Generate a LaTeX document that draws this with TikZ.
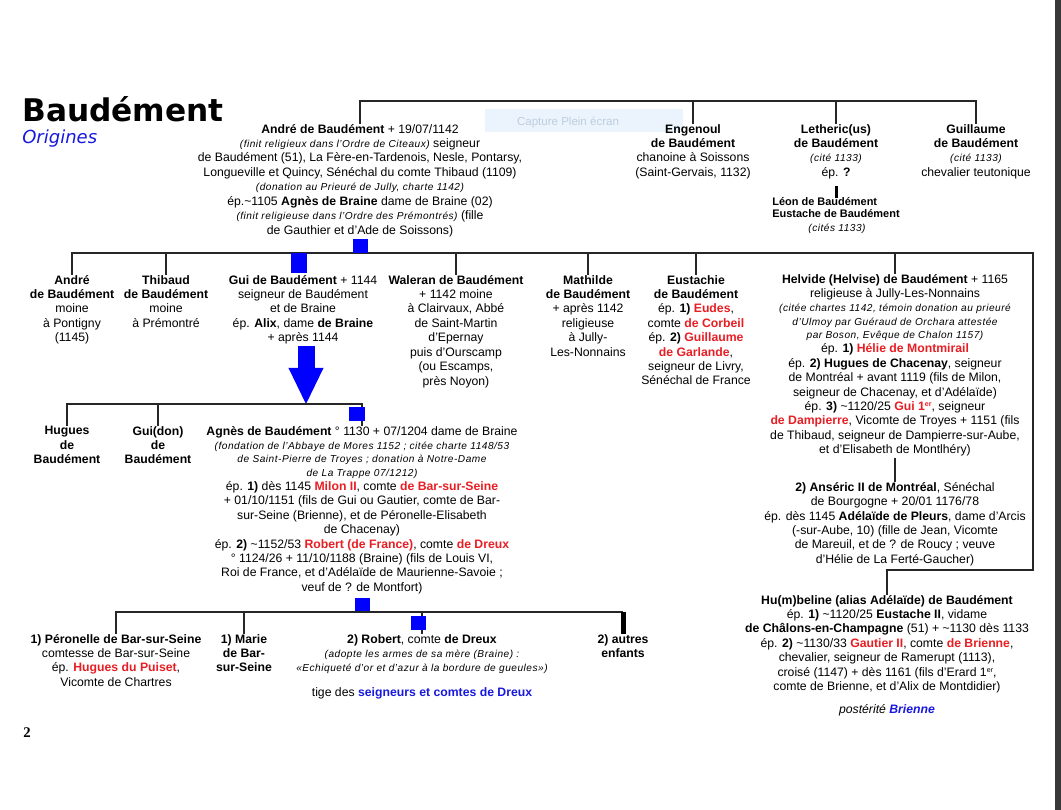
\documentclass[tikz,border=0pt]{standalone}
\usepackage{fontspec}
\setmainfont{Liberation Sans}
\newfontfamily\titrefont{DejaVu Sans}
\newfontfamily\pagefont{Liberation Serif}
\usetikzlibrary{arrows.meta}
\definecolor{rouge}{RGB}{232,30,36}
\definecolor{bleu}{RGB}{24,24,222}
\definecolor{capfond}{RGB}{235,244,253}
\definecolor{capgris}{RGB}{190,205,222}
\colorlet{trait}{black!85}
\newcommand{\vers}{\textasciitilde}
\newcommand{\rg}[1]{{\bfseries\color{rouge}#1}}
\newcommand{\bl}[1]{{\bfseries\color{bleu}#1}}
\newcommand{\rem}[1]{{\fontsize{7.2}{10.25}\selectfont\itshape\addfontfeature{LetterSpace=5}#1}}
\newcommand{\er}{\raisebox{0.32em}{\fontsize{5}{5}\selectfont er}}

\begin{document}
\begin{tikzpicture}[x=0.025cm, y=-0.025cm, font=\fontsize{8.7}{10.25}\selectfont,
    bloc/.style={align=center, inner sep=0pt, anchor=north, execute at begin node=\strut},
    lien/.style={draw=trait, line width=0.035cm},
    barre/.style={draw=black, line width=0.075cm},
    carre/.style={fill=blue, inner sep=0pt, minimum width=0.375cm, minimum height=0.35cm},
    fleche/.style={draw=blue, line width=0.425cm, -{Triangle[length=0.9cm, width=0.875cm, line width=0pt]}}]
  \useasboundingbox (0,0) rectangle (1061,810);
  \fill[white] (0,0) rectangle (1061,810);
  \fill[black!78] (1055,0) rectangle (1061,810);

  % titre
  \node[anchor=base west, inner sep=0pt, font=\titrefont\fontsize{22.2}{24}\selectfont\bfseries] (titre) at (22,121) {Baudément};
  \node[anchor=base west, inner sep=0pt, font=\titrefont\fontsize{12.8}{14}\selectfont\itshape, text=bleu] (soustitre) at (22,143) {Origines};
  \fill[capfond] (485,109) rectangle (683,132);
  \node[anchor=base, inner sep=0pt, text=capgris, font=\fontsize{8.2}{9}\selectfont] (capture) at (568,125) {Capture Plein écran};

  % premiere generation
  \node[bloc] (andre) at (360,123.9) {\textbf{André de Baudément} + 19/07/1142\\
    \rem{(finit religieux dans l'Ordre de Citeaux)} seigneur\\
    de Baudément (51), La Fère-en-Tardenois, Nesle, Pontarsy,\\
    Longueville et Quincy, Sénéchal du comte Thibaud (1109)\\
    \rem{(donation au Prieuré de Jully, charte 1142)}\\
    ép.\vers1105 \textbf{Agnès de Braine} dame de Braine (02)\\
    \rem{(finit religieuse dans l'Ordre des Prémontrés)} (fille\\
    de Gauthier et d'Ade de Soissons)};
  \node[bloc] (engenoul) at (693,123.9) {\textbf{Engenoul}\\\textbf{de Baudément}\\chanoine à Soissons\\(Saint-Gervais, 1132)};
  \node[bloc] (letheric) at (836,123.9) {\textbf{Letheric(us)}\\\textbf{de Baudément}\\\rem{(cité 1133)}\\ép. \textbf{?}};
  \node[bloc] (guillaume) at (976,123.9) {\textbf{Guillaume}\\\textbf{de Baudément}\\\rem{(cité 1133)}\\chevalier teutonique};
  \node[bloc, align=left, font=\fontsize{7.8}{8.5}\selectfont\bfseries] (leon) at (836,197.6) {Léon de Baudément\\Eustache de Baudément};
  \node[bloc] (leoncite) at (837,220.9) {\rem{(cités 1133)}};

  % enfants d'Andre
  \node[bloc] (andrefils) at (72,274.9) {\textbf{André}\\\textbf{de Baudément}\\moine\\à Pontigny\\(1145)};
  \node[bloc] (thibaud) at (166,274.9) {\textbf{Thibaud}\\\textbf{de Baudément}\\moine\\à Prémontré};
  \node[bloc] (gui) at (303,274.9) {\textbf{Gui de Baudément} + 1144\\seigneur de Baudément\\et de Braine\\
    ép. \textbf{Alix}, dame \textbf{de Braine}\\+ après 1144};
  \node[bloc] (waleran) at (456,274.9) {\textbf{Waleran de Baudément}\\+ 1142 moine\\à Clairvaux, Abbé\\de Saint-Martin\\
    d'Epernay\\puis d'Ourscamp\\(ou Escamps,\\près Noyon)};
  \node[bloc] (mathilde) at (588,274.9) {\textbf{Mathilde}\\\textbf{de Baudément}\\+ après 1142\\religieuse\\à Jully-\\Les-Nonnains};
  \node[bloc] (eustachie) at (696,274.9) {\textbf{Eustachie}\\\textbf{de Baudément}\\ép. \textbf{1)} \rg{Eudes},\\
    comte \rg{de Corbeil}\\ép. \textbf{2)} \rg{Guillaume}\\\rg{de Garlande},\\seigneur de Livry,\\Sénéchal de France};
  \node[bloc] (helvide) at (895,273.9) {\textbf{Helvide (Helvise) de Baudément} + 1165\\
    religieuse à Jully-Les-Nonnains\\
    \rem{(citée chartes 1142, témoin donation au prieuré}\\[-0.03cm]
    \rem{d'Ulmoy par Guéraud de Orchara attestée}\\[-0.03cm]
    \rem{par Boson, Evêque de Chalon 1157)}\\
    ép. \textbf{1)} \rg{Hélie de Montmirail}\\
    ép. \textbf{2) Hugues de Chacenay}, seigneur\\
    de Montréal + avant 1119 (fils de Milon,\\
    seigneur de Chacenay, et d'Adélaïde)\\
    ép. \textbf{3)} \vers1120/25 \rg{Gui 1\er}, seigneur\\
    \rg{de Dampierre}, Vicomte de Troyes + 1151 (fils\\
    de Thibaud, seigneur de Dampierre-sur-Aube,\\
    et d'Elisabeth de Montlhéry)};
  \node[bloc] (anseric) at (895,481.9) {\textbf{2) Anséric II de Montréal}, Sénéchal\\
    de Bourgogne + 20/01 1176/78\\
    ép. dès 1145 \textbf{Adélaïde de Pleurs}, dame d'Arcis\\
    (-sur-Aube, 10) (fille de Jean, Vicomte\\
    de Mareuil, et de ? de Roucy ; veuve\\
    d'Hélie de La Ferté-Gaucher)};
  \node[bloc] (humbeline) at (887,594.9) {\textbf{Hu(m)beline (alias Adélaïde) de Baudément}\\
    ép. \textbf{1)} \vers1120/25 \textbf{Eustache II}, vidame\\
    \textbf{de Châlons-en-Champagne} (51) + \vers1130 dès 1133\\
    ép. \textbf{2)} \vers1130/33 \rg{Gautier II}, comte \rg{de Brienne},\\
    chevalier, seigneur de Ramerupt (1113),\\
    croisé (1147) + dès 1161 (fils d'Erard 1\er,\\
    comte de Brienne, et d'Alix de Montdidier)\\[0.215cm]
    \textit{postérité \bl{Brienne}}};

  % enfants de Gui
  \node[bloc] (hugues) at (67,425.9) {\textbf{Hugues}\\\textbf{de}\\\textbf{Baudément}};
  \node[bloc] (guidon) at (158,425.9) {\textbf{Gui(don)}\\\textbf{de}\\\textbf{Baudément}};
  \node[bloc] (agnes) at (362,425.9) {\textbf{Agnès de Baudément} ° 1130 + 07/1204 dame de Braine\\
    \rem{(fondation de l'Abbaye de Mores 1152 ; citée charte 1148/53}\\[-0.03cm]
    \rem{de Saint-Pierre de Troyes ; donation à Notre-Dame}\\[-0.03cm]
    \rem{de La Trappe 07/1212)}\\
    ép. \textbf{1)} dès 1145 \rg{Milon II}, comte \rg{de Bar-sur-Seine}\\
    + 01/10/1151 (fils de Gui ou Gautier, comte de Bar-\\
    sur-Seine (Brienne), et de Péronelle-Elisabeth\\
    de Chacenay)\\
    ép. \textbf{2)} \vers1152/53 \rg{Robert (de France)}, comte \rg{de Dreux}\\
    ° 1124/26 + 11/10/1188 (Braine) (fils de Louis VI,\\
    Roi de France, et d'Adélaïde de Maurienne-Savoie ;\\
    veuf de ? de Montfort)};

  % enfants d'Agnes
  \node[bloc] (peronelle) at (116,633.9) {\textbf{1) Péronelle de Bar-sur-Seine}\\comtesse de Bar-sur-Seine\\
    ép. \rg{Hugues du Puiset},\\Vicomte de Chartres};
  \node[bloc] (marie) at (244,633.9) {\textbf{1) Marie}\\\textbf{de Bar-}\\\textbf{sur-Seine}};
  \node[bloc] (robert) at (422,633.9) {\textbf{2) Robert}, comte \textbf{de Dreux}\\
    \rem{(adopte les armes de sa mère (Braine) :}\\
    \rem{«Echiqueté d'or et d'azur à la bordure de gueules»)}\\[0.265cm]
    tige des \bl{seigneurs et comtes de Dreux}};
  \node[bloc] (autres) at (623,633.9) {\textbf{2) autres}\\\textbf{enfants}};

  \node[anchor=base west, inner sep=0pt, font=\pagefont\fontsize{10.5}{12}\selectfont\bfseries] (page) at (23,737) {2};

  % liens
  \coordinate (bus1) at (0,101);
  \coordinate (bus2) at (0,253);
  \coordinate (bus3) at (0,404);
  \coordinate (bus4) at (0,612);
  \coordinate (coin) at (1033,570);
  \coordinate (pointe) at (306,404);
  \draw[lien] (andre.north) -- (andre.north |- bus1) -- (guillaume.north |- bus1) -- (guillaume.north);
  \foreach \n in {engenoul, letheric}
    \draw[lien] (\n.north) -- (\n.north |- bus1);
  \draw[barre, shorten <=0.14cm] (letheric.south) -- (leon.north);

  \draw[lien] (andrefils.north) -- (andrefils.north |- bus2) -- (coin |- bus2) -- (coin)
    -- (coin -| humbeline.north) -- (humbeline.north);
  \foreach \n in {thibaud, waleran, mathilde, eustachie, helvide}
    \draw[lien] (\n.north) -- (\n.north |- bus2);
  \node[carre, anchor=south] (marqueandre) at (andre.south |- bus2) {};
  \node[carre, anchor=north, xshift=-0.1cm, minimum height=0.5cm] (marquegui) at (gui.north |- bus2) {};
  \draw[lien] (helvide.south) -- (anseric.north);

  \draw[fleche] (pointe |- gui.south) -- (pointe);
  \draw[lien] (hugues.north) -- (hugues.north |- bus3) -- (agnes.north |- bus3) -- (agnes.north);
  \draw[lien] (guidon.north) -- (guidon.north |- bus3);
  \node[carre, anchor=north, xshift=-0.125cm, yshift=-0.075cm] (marqueagnes) at (agnes.north |- bus3) {};

  \node[carre, anchor=south] (marquefils) at (agnes.south |- bus4) {};
  \draw[lien] (peronelle.north) -- (peronelle.north |- bus4) -- (autres.north |- bus4);
  \foreach \n in {marie, robert}
    \draw[lien] (\n.north) -- (\n.north |- bus4);
  \node[carre, anchor=north, xshift=-0.1cm, yshift=-0.1cm] (marquerobert) at (robert.north |- bus4) {};
  \draw[barre, line width=0.125cm] (autres.north) -- (autres.north |- bus4);
\end{tikzpicture}
\end{document}
